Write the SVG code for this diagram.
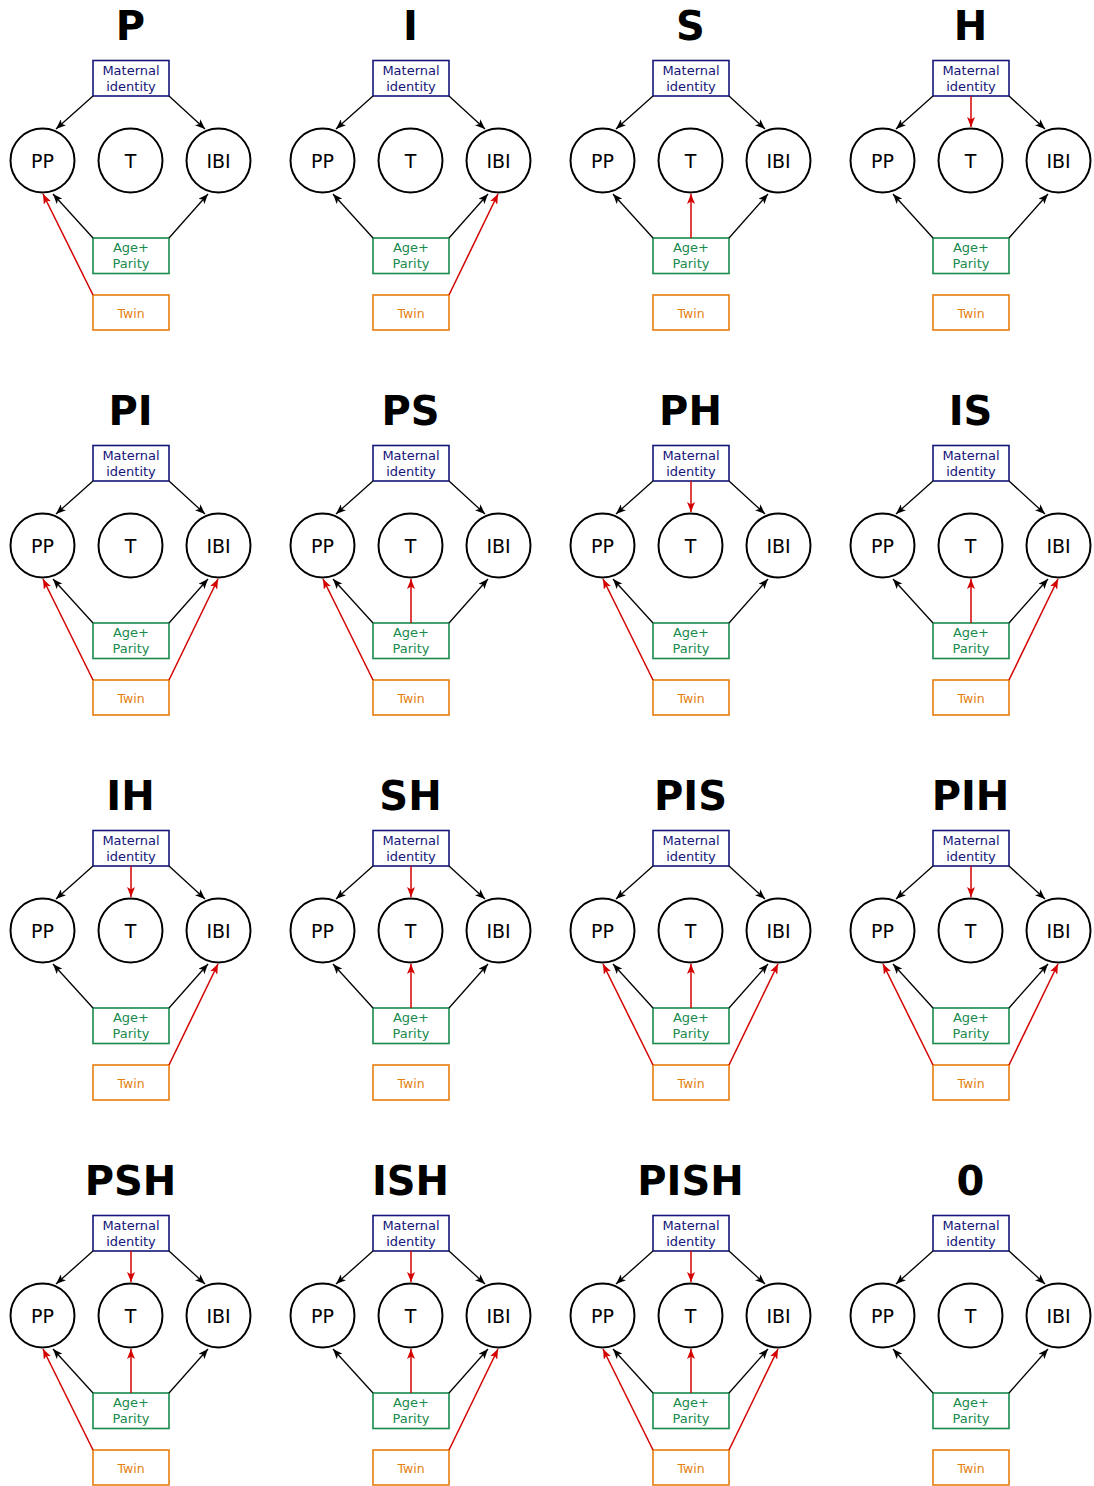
<svg xmlns="http://www.w3.org/2000/svg" width="1094" height="1486" viewBox="0 0 1094 1486">
<style>
text{font-family:"DejaVu Sans","Liberation Sans",sans-serif;text-anchor:middle}
.ttl{font-size:40px;font-weight:bold;fill:#000}
.mat rect{fill:#fff;stroke:#14147a;stroke-width:1.6}
.mat text{fill:#14147a;font-size:13px}
.age rect{fill:#fff;stroke:#178a4c;stroke-width:1.6}
.age text{fill:#178a4c;font-size:13px}
.twin rect{fill:#fff;stroke:#e67e0e;stroke-width:1.6}
.twin text{fill:#e67e0e;font-size:12.5px}
.nd circle{fill:#fff;stroke:#000;stroke-width:2}
.nd text{fill:#000;font-size:19px}
.k{fill:none;stroke:#000;stroke-width:1.3;marker-end:url(#ab)}
.r{fill:none;stroke:#d40000;stroke-width:1.5;marker-end:url(#ar)}
</style>
<defs>
<marker id="ab" viewBox="0 0 10 8" refX="10" refY="4" markerWidth="10" markerHeight="8" markerUnits="userSpaceOnUse" orient="auto"><path d="M0,0 L10,4 L0,8 L2.5,4 z" fill="#000"/></marker>
<marker id="ar" viewBox="0 0 10 8" refX="10" refY="4" markerWidth="10" markerHeight="8" markerUnits="userSpaceOnUse" orient="auto"><path d="M0,0 L10,4 L0,8 L2.5,4 z" fill="#d40000"/></marker>
<g id="base">
<g class="mat"><rect x="93" y="60.5" width="76" height="35.5"/><text x="131" y="75">Maternal</text><text x="131" y="91">identity</text></g>
<g class="nd"><circle cx="42.5" cy="160.5" r="32"/><text x="42.5" y="167.5">PP</text></g>
<g class="nd"><circle cx="130.5" cy="160.5" r="32"/><text x="130.5" y="167.5">T</text></g>
<g class="nd"><circle cx="218.5" cy="160.5" r="32"/><text x="218.5" y="167.5">IBI</text></g>
<g class="age"><rect x="93" y="238" width="76" height="35.5"/><text x="131" y="252">Age+</text><text x="131" y="268">Parity</text></g>
<g class="twin"><rect x="93" y="295" width="76" height="35"/><text x="131" y="317.5">Twin</text></g>
<path class="k" d="M93,96 L56,129"/>
<path class="k" d="M169,96 L205,129"/>
<path class="k" d="M93,238 L53,194"/>
<path class="k" d="M169,238 L208,194"/>
</g>
<path id="mt" class="r" d="M131,96 L131,127"/>
<path id="at" class="r" d="M131,238 L131,194"/>
<path id="tp" class="r" d="M93,295 L43,194"/>
<path id="ti" class="r" d="M169,295 L218,194"/>
</defs>

<g id="panel-P" transform="translate(0,0)">
<text class="ttl" x="130.5" y="40">P</text>
<g id="P-nodes"><use href="#base"/></g>
<g id="P-connectors"><use href="#tp"/></g>
</g>
<g id="panel-I" transform="translate(280,0)">
<text class="ttl" x="130.5" y="40">I</text>
<g id="I-nodes"><use href="#base"/></g>
<g id="I-connectors"><use href="#ti"/></g>
</g>
<g id="panel-S" transform="translate(560,0)">
<text class="ttl" x="130.5" y="40">S</text>
<g id="S-nodes"><use href="#base"/></g>
<g id="S-connectors"><use href="#at"/></g>
</g>
<g id="panel-H" transform="translate(840,0)">
<text class="ttl" x="130.5" y="40">H</text>
<g id="H-nodes"><use href="#base"/></g>
<g id="H-connectors"><use href="#mt"/></g>
</g>

<g id="panel-PI" transform="translate(0,385)">
<text class="ttl" x="130.5" y="40">PI</text>
<g id="PI-nodes"><use href="#base"/></g>
<g id="PI-connectors"><use href="#tp"/><use href="#ti"/></g>
</g>
<g id="panel-PS" transform="translate(280,385)">
<text class="ttl" x="130.5" y="40">PS</text>
<g id="PS-nodes"><use href="#base"/></g>
<g id="PS-connectors"><use href="#tp"/><use href="#at"/></g>
</g>
<g id="panel-PH" transform="translate(560,385)">
<text class="ttl" x="130.5" y="40">PH</text>
<g id="PH-nodes"><use href="#base"/></g>
<g id="PH-connectors"><use href="#tp"/><use href="#mt"/></g>
</g>
<g id="panel-IS" transform="translate(840,385)">
<text class="ttl" x="130.5" y="40">IS</text>
<g id="IS-nodes"><use href="#base"/></g>
<g id="IS-connectors"><use href="#at"/><use href="#ti"/></g>
</g>

<g id="panel-IH" transform="translate(0,770)">
<text class="ttl" x="130.5" y="40">IH</text>
<g id="IH-nodes"><use href="#base"/></g>
<g id="IH-connectors"><use href="#mt"/><use href="#ti"/></g>
</g>
<g id="panel-SH" transform="translate(280,770)">
<text class="ttl" x="130.5" y="40">SH</text>
<g id="SH-nodes"><use href="#base"/></g>
<g id="SH-connectors"><use href="#mt"/><use href="#at"/></g>
</g>
<g id="panel-PIS" transform="translate(560,770)">
<text class="ttl" x="130.5" y="40">PIS</text>
<g id="PIS-nodes"><use href="#base"/></g>
<g id="PIS-connectors"><use href="#tp"/><use href="#at"/><use href="#ti"/></g>
</g>
<g id="panel-PIH" transform="translate(840,770)">
<text class="ttl" x="130.5" y="40">PIH</text>
<g id="PIH-nodes"><use href="#base"/></g>
<g id="PIH-connectors"><use href="#mt"/><use href="#tp"/><use href="#ti"/></g>
</g>

<g id="panel-PSH" transform="translate(0,1155)">
<text class="ttl" x="130.5" y="40">PSH</text>
<g id="PSH-nodes"><use href="#base"/></g>
<g id="PSH-connectors"><use href="#mt"/><use href="#at"/><use href="#tp"/></g>
</g>
<g id="panel-ISH" transform="translate(280,1155)">
<text class="ttl" x="130.5" y="40">ISH</text>
<g id="ISH-nodes"><use href="#base"/></g>
<g id="ISH-connectors"><use href="#mt"/><use href="#at"/><use href="#ti"/></g>
</g>
<g id="panel-PISH" transform="translate(560,1155)">
<text class="ttl" x="130.5" y="40">PISH</text>
<g id="PISH-nodes"><use href="#base"/></g>
<g id="PISH-connectors"><use href="#mt"/><use href="#at"/><use href="#tp"/><use href="#ti"/></g>
</g>
<g id="panel-0" transform="translate(840,1155)">
<text class="ttl" x="130.5" y="40">0</text>
<g id="0-nodes"><use href="#base"/></g>
<g id="0-connectors"></g>
</g>
</svg>
